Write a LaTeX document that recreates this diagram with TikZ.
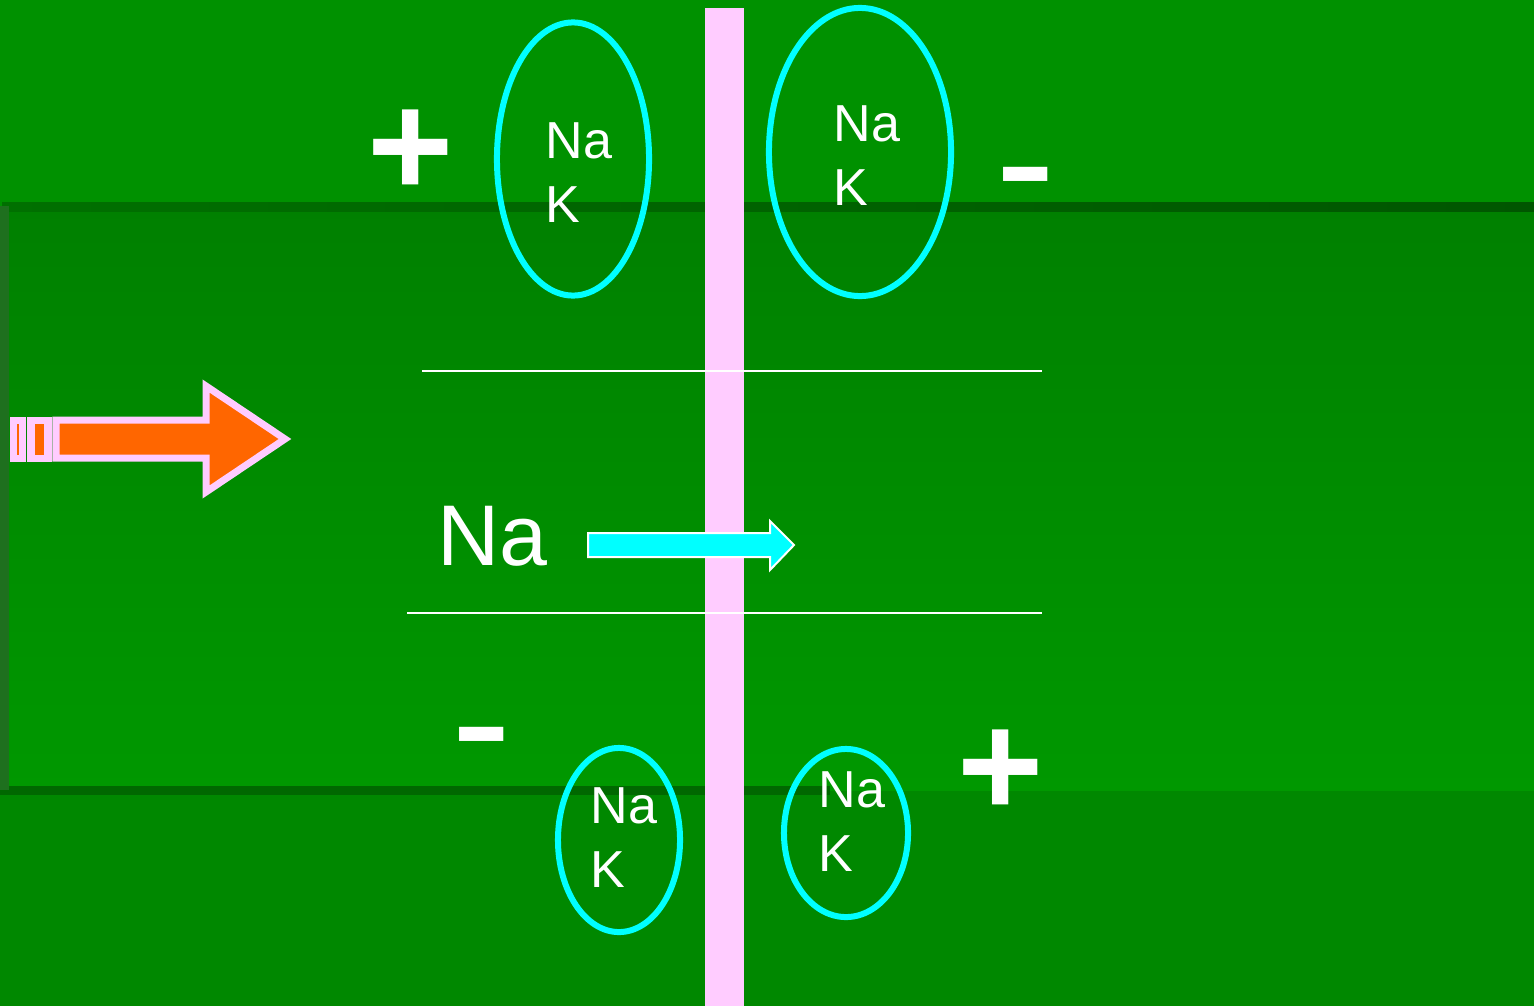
\documentclass[tikz,border=0pt]{standalone}
\usepackage{fontspec}
\setmainfont{Liberation Sans}
\usetikzlibrary{shapes.geometric}
\definecolor{slidetop}{RGB}{0,145,0}
\definecolor{slidebottom}{RGB}{0,136,0}
\definecolor{axontop}{RGB}{0,128,0}
\definecolor{axonbottom}{RGB}{0,152,0}
\definecolor{edgelight}{RGB}{0,112,0}
\definecolor{edgedark}{RGB}{0,86,0}
\definecolor{edgelow}{RGB}{0,104,0}
\definecolor{edgeside}{RGB}{30,112,30}
\definecolor{membranepink}{RGB}{255,204,255}
\definecolor{ioncyan}{RGB}{0,255,255}
\definecolor{pulseorange}{RGB}{255,102,0}
\tikzset{
  ion-ring/.style={
    ellipse,
    draw=ioncyan,
    line width=0.06cm,
    inner sep=0pt
  },
  ion-label/.style={
    text=white,
    align=left,
    anchor=north west,
    inner sep=0pt,
    font=\fontsize{14.8}{18.1}\selectfont
  },
  sign-plus/.style={text=white, anchor=base, inner sep=0pt,
    font=\bfseries\fontsize{42}{44}\selectfont},
  sign-minus/.style={text=white, anchor=base, inner sep=0pt,
    font=\fontsize{51.5}{52}\selectfont},
  pulse/.style={
    fill=pulseorange,
    draw=membranepink,
    line width=0.07cm,
    line join=miter
  },
  flow/.style={fill=ioncyan, draw=white, line width=0.02cm},
  gate-line/.style={draw=white, line width=0.02cm}
}
\newcommand{\axonbackground}{%
  \useasboundingbox (0,0) rectangle (1534,1006);
  \fill[slidetop] (0,0) rectangle (1534,1006);
  \fill[slidebottom] (0,790) rectangle (1534,1006);
  \shade[top color=axontop, bottom color=axonbottom] (0,206) rectangle (1534,790);
  \shade[left color=edgelight, right color=edgedark] (2,202) rectangle (1534,211);
  \fill[edgelow] (0,786) rectangle (830,795);
  \fill[edgeside] (0,206) rectangle (9,790);
}

\begin{document}
\begin{tikzpicture}[x=0.01cm, y=-0.01cm]
  \axonbackground
  % membrane and gate
  \fill[membranepink] (705,8) rectangle (744,1006);
  \coordinate (g1a) at (422,371);
  \coordinate (g1b) at (1042,371);
  \coordinate (g2a) at (407,613);
  \coordinate (g2b) at (1042,613);
  \draw[gate-line] (g1a) -- (g1b);
  \draw[gate-line] (g2a) -- (g2b);

  % ion pairs
  \node[ion-ring, minimum width=1.52cm, minimum height=2.73cm] (ring-tl) at (573,159) {};
  \node[ion-ring, minimum width=1.82cm, minimum height=2.88cm] (ring-tr) at (860,152) {};
  \node[ion-ring, minimum width=1.22cm, minimum height=1.84cm] (ring-bl) at (619,840) {};
  \node[ion-ring, minimum width=1.24cm, minimum height=1.68cm] (ring-br) at (846,833) {};
  \node[ion-label] (ions-tl) at (545,122) {Na\\K};
  \node[ion-label] (ions-tr) at (833,105) {Na\\K};
  \node[ion-label] (ions-bl) at (590,787) {Na\\K};
  \node[ion-label] (ions-br) at (818,771) {Na\\K};

  % charges
  \node[sign-plus] (plus-tl) at (411,196) {+};
  \node[sign-minus] (minus-tr) at (1026,222) {-};
  \node[sign-minus] (minus-bl) at (482,782) {-};
  \node[sign-plus] (plus-br) at (1001,816) {+};

  % impulse arrow
  \filldraw[pulse] (13.5,420) rectangle (22.5,458);
  \filldraw[pulse] (31,420) rectangle (48,458);
  \filldraw[pulse] (56,420) -- (206,420) -- (206,386) -- (285,439)
    -- (206,492) -- (206,458) -- (56,458) -- cycle;

  % sodium influx
  \node[text=white, anchor=north west, inner sep=0pt,
    font=\fontsize{24.5}{28}\selectfont] (na-in) at (437,506) {Na};
  \filldraw[flow] (588,533) -- (770,533) -- (770,521) -- (794,545)
    -- (770,570) -- (770,557) -- (588,557) -- cycle;
\end{tikzpicture}
\end{document}
